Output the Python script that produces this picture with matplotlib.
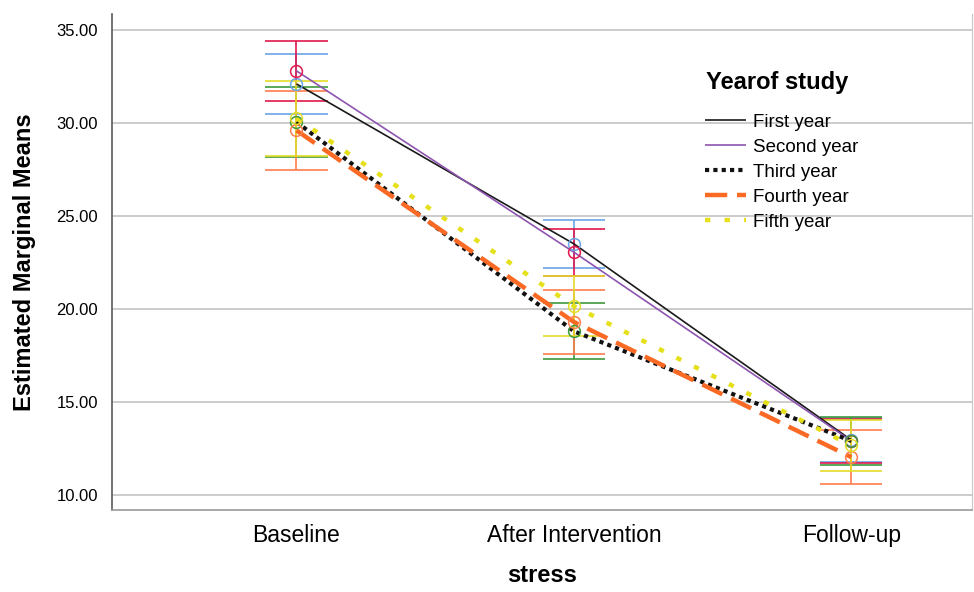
import matplotlib
matplotlib.use("Agg")
import matplotlib.pyplot as plt
import numpy as np

plt.rcParams["font.family"] = ["Liberation Sans", "DejaVu Sans"]

# --- data (estimated marginal means, 95% CI half-widths) ---
timepoints = ["Baseline", "After Intervention", "Follow-up"]
groups = ["First year", "Second year", "Third year", "Fourth year", "Fifth year"]
first_year = [32.10, 23.50, 12.95]
second_year = [32.80, 23.05, 12.90]
third_year = [30.05, 18.80, 12.90]
fourth_year = [29.60, 19.30, 12.03]
fifth_year = [30.25, 20.15, 12.66]
first_ci = [1.62, 1.28, 1.16]
second_ci = [1.62, 1.26, 1.17]
third_ci = [1.87, 1.51, 1.27]
fourth_ci = [2.13, 1.70, 1.46]
fifth_ci = [2.02, 1.60, 1.37]

means = [first_year, second_year, third_year, fourth_year, fifth_year]
cis = [first_ci, second_ci, third_ci, fourth_ci, fifth_ci]

line_style = [
    dict(color="#1a1a1a", lw=1.2, ls="-"),
    dict(color="#8e55b0", lw=1.2, ls="-"),
    dict(color="#111111", lw=3.0, ls=(0, (1, 1))),
    dict(color="#fa6a24", lw=3.2, ls=(0, (5, 2.2))),
    dict(color="#e6e01a", lw=3.2, ls=(0, (1.2, 3.2))),
]
bar_col = ["#6aa5e6", "#e0184e", "#3d9a3d", "#ff7d4d", "#e3dc2a"]

fig = plt.figure(figsize=(9.74, 5.92), dpi=100)
ax = fig.add_axes([112 / 974, 1 - 510 / 592, 1 - 112 / 974 - 0.002, (510 - 14) / 592])

x = np.arange(len(timepoints))
cap = 0.112

# error bars
for m, c, col in zip(means, cis, bar_col):
    m = np.asarray(m); c = np.asarray(c)
    ax.vlines(x, m - c, m + c, color=col, lw=1.2, zorder=2)
    ax.hlines(m - c, x - cap, x + cap, color=col, lw=1.2, zorder=2)
    ax.hlines(m + c, x - cap, x + cap, color=col, lw=1.2, zorder=2)

# profile lines
handles = []
for m, st, name in zip(means, line_style, groups):
    h, = ax.plot(x, m, color=st["color"], lw=st["lw"], ls=st["ls"], label=name,
                 zorder=3, solid_capstyle="butt", dash_capstyle="butt")
    handles.append(h)

# mean markers
for m, col in zip(means, bar_col):
    ax.plot(x, m, ls="none", marker="o", ms=8.5, mfc="none", mec=col, mew=1.1, zorder=4)

ax.set_xlim(-0.665, 2.435)
ax.set_ylim(9.19, 35.86)
ax.set_yticks([10, 15, 20, 25, 30, 35])
ax.set_yticklabels([f"{v:.2f}" for v in [10, 15, 20, 25, 30, 35]], fontsize=12)
ax.set_xticks(x)
ax.set_xticklabels(timepoints, fontsize=16.5)
ax.tick_params(axis="both", length=0)
ax.tick_params(axis="x", pad=10)
ax.tick_params(axis="y", pad=10)
ax.yaxis.grid(True, color="#c8c8c8", lw=1.3)
ax.set_axisbelow(True)
ax.spines["top"].set_visible(False)
ax.spines["left"].set_color("#5a5a5a")
ax.spines["bottom"].set_color("#9a9a9a")
ax.spines["right"].set_color("#c8c8c8")
ax.spines["left"].set_linewidth(1.2)
ax.spines["bottom"].set_linewidth(1.2)

ax.set_ylabel("Estimated Marginal Means", fontsize=17, fontweight="bold", labelpad=15)
ax.set_xlabel("stress", fontsize=17, fontweight="bold", labelpad=12)

fig.text(706 / 974, 1 - 82 / 592, "Yearof study", fontsize=17, fontweight="bold",
         ha="left", va="center")
leg = fig.legend(handles=handles, loc="upper left", bbox_to_anchor=(697 / 974, 1 - 106 / 592),
                 frameon=False, fontsize=13.5, handlelength=2.2,
                 handletextpad=0.4, labelspacing=0.42, borderaxespad=0)

fig.savefig("out.png", dpi=100)
